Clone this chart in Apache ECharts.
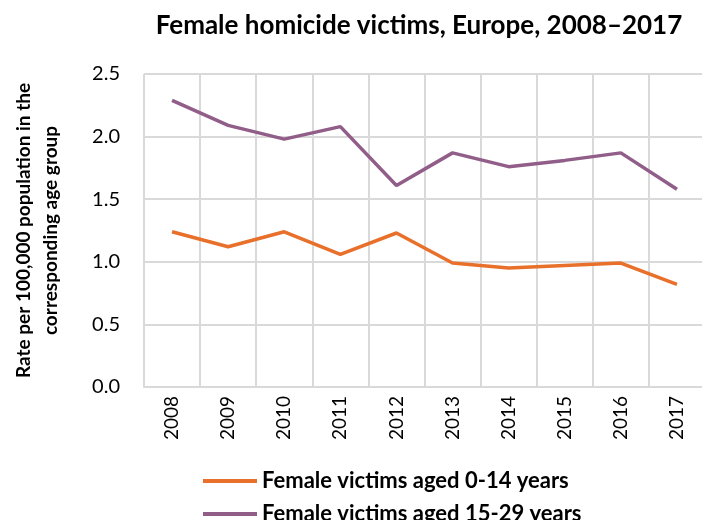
<!DOCTYPE html>
<html>
<head>
<meta charset="utf-8">
<script src="https://cdn.jsdelivr.net/npm/echarts@6/dist/echarts.min.js"></script>
<style>
  html, body { margin: 0; padding: 0; background: #fff; }
  #echart { width: 702px; height: 520px; }
</style>
</head>
<body>
<div id="echart"></div>
<script>
// data
var years = ['2008', '2009', '2010', '2011', '2012', '2013', '2014', '2015', '2016', '2017'];
var aged0to14 = [1.24, 1.12, 1.24, 1.06, 1.23, 0.99, 0.95, 0.97, 0.99, 0.82];
var aged15to29 = [2.29, 2.09, 1.98, 2.08, 1.61, 1.87, 1.76, 1.81, 1.87, 1.58];
var seriesNames = ['Female victims aged 0-14 years', 'Female victims aged 15-29 years'];

var font = 'Lato, "DejaVu Sans", sans-serif';
var dom = document.getElementById('echart');
var myChart = echarts.init(dom);

// one legend per row so the rows sit where the reference has them
function legendRow(name, top) {
    return {
        left: 198,
        top: top,
        itemWidth: 54,
        itemHeight: 4,
        icon: 'rect',
        data: [name],
        textStyle: { fontFamily: font, fontWeight: 'bold', fontSize: 22, color: '#000' }
    };
}

var option = {
    animation: false,
    backgroundColor: '#fff',
    title: {
        text: 'Female homicide victims, Europe, 2008\u20132017',
        left: 414,
        top: 8,
        textAlign: 'center',
        textStyle: { fontFamily: font, fontWeight: 'bold', fontSize: 26, color: '#000' }
    },
    legend: [legendRow(seriesNames[0], 465), legendRow(seriesNames[1], 498)],
    grid: { left: 144, top: 74, width: 561, height: 313, outerBoundsMode: 'none' },
    xAxis: {
        type: 'category',
        boundaryGap: true,
        data: years,
        axisLine: { lineStyle: { color: '#d9d9d9', width: 2 } },
        axisTick: { show: false },
        axisLabel: { rotate: 90, margin: 9, interval: 0, fontFamily: font, fontSize: 19, color: '#000' },
        splitLine: { show: true, lineStyle: { color: '#d9d9d9', width: 2 } }
    },
    yAxis: {
        type: 'value',
        min: 0,
        max: 2.5,
        interval: 0.5,
        name: 'Rate per 100,000 population in the\ncorresponding age group',
        nameLocation: 'middle',
        nameGap: 80,
        nameTextStyle: { fontFamily: font, fontWeight: 'bold', fontSize: 19, color: '#000', lineHeight: 27 },
        axisLine: { show: false },
        axisTick: { show: false },
        axisLabel: {
            margin: 24, fontFamily: font, fontSize: 20, color: '#000',
            formatter: function (v) { return v.toFixed(1); }
        },
        splitLine: { lineStyle: { color: '#d9d9d9', width: 2 } }
    },
    series: [
        {
            name: seriesNames[0],
            type: 'line',
            data: aged0to14,
            symbol: 'none',
            color: '#e8702a',
            lineStyle: { width: 3.5, color: '#e8702a' }
        },
        {
            name: seriesNames[1],
            type: 'line',
            data: aged15to29,
            symbol: 'none',
            color: '#905e88',
            lineStyle: { width: 3.5, color: '#905e88' }
        }
    ]
};

myChart.setOption(option);
</script>
</body>
</html>
